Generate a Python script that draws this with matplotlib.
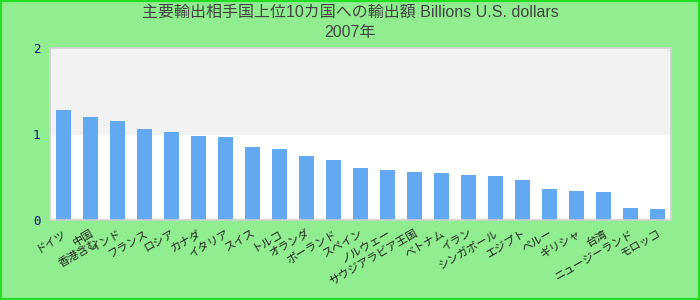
import numpy as np
import matplotlib.pyplot as plt

plt.rcParams['font.family'] = ['Liberation Sans', 'Noto Sans CJK JP', 'DejaVu Sans']

# Datos
titulo = "主要輸出相手国上位10カ国への輸出額 Billions U.S. dollars\n2007年"
paises = ["ドイツ", "中国\n香港含む", "インド", "フランス", "ロシア", "カナダ",
          "イタリア", "スイス", "トルコ", "オランダ", "ポーランド", "スペイン",
          "ノルウェー", "サウジアラビア王国", "ベトナム", "イラン", "シンガポール",
          "エジプト", "ペルー", "ギリシャ", "台湾", "ニュージーランド", "モロッコ"]
valores = [1.28, 1.20, 1.15, 1.06, 1.02, 0.98, 0.965, 0.85, 0.826, 0.744, 0.698,
           0.605, 0.581, 0.558, 0.547, 0.523, 0.512, 0.465, 0.36, 0.337, 0.326,
           0.14, 0.128]
ticks_y = [0, 1, 2]

fondo = '#90EE90'
fig = plt.figure(figsize=(7, 3), dpi=100, facecolor=fondo)
ax = fig.add_axes([50 / 700, 80 / 300, 621 / 700, 172 / 300])
ax.set_facecolor('white')

x = np.arange(len(paises))
ax.axhspan(1, 2, color='#F2F2F2', zorder=0)
ax.bar(x, valores, width=0.52, color='#62A9F2', zorder=2)

ax.set_xlim(-0.5, len(paises) - 0.5)
ax.set_ylim(0, 2)
ax.set_yticks(ticks_y)
ax.set_yticklabels([str(t) for t in ticks_y], color='#10107A', fontsize=9,
                   family='DejaVu Sans Mono')
ax.tick_params(axis='y', length=0, pad=7)
ax.set_xticks(x)
ax.set_xticklabels(paises, rotation=30, ha='right', rotation_mode='anchor',
                   fontsize=8, color='#222222', linespacing=1.1)
ax.tick_params(axis='x', length=0, pad=6)

for lado in ax.spines.values():
    lado.set_color('#D0D0D0')
    lado.set_linewidth(1.2)

fig.text(0.5, 0.985, titulo, ha='center', va='top', fontsize=11.5,
         color='#444444', linespacing=1.45)

# Borde verde alrededor de la figura
fig.patches.append(plt.Rectangle((0, 0), 1, 1, transform=fig.transFigure,
                                 fill=False, edgecolor='#22DD22', linewidth=3))

fig.savefig('out.png', dpi=100, facecolor=fondo)
